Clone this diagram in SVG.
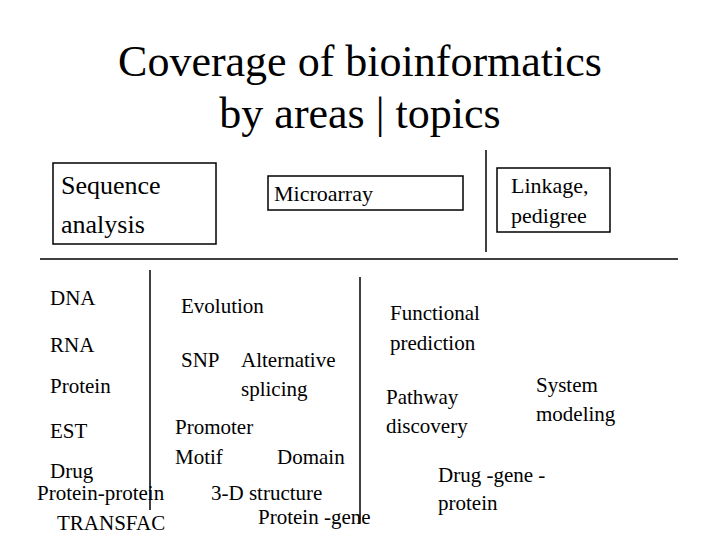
<svg xmlns="http://www.w3.org/2000/svg" width="720" height="540" viewBox="0 0 720 540" font-family="'Liberation Serif', 'DejaVu Serif Condensed', 'DejaVu Serif', serif">
<style>
text{font-family:"Liberation Serif","DejaVu Serif Condensed","DejaVu Serif",serif;fill:#000}
.t{font-size:21px}
.h{font-size:44px}
.s{font-size:26px}
.m{font-size:22px}
.box{fill:#fff;stroke:#000;stroke-width:1.5}
.ln{stroke:#000;stroke-width:1.5}
</style>
<rect width="720" height="540" fill="#fff"/>
<g id="title"><text class="h" x="360" y="76" text-anchor="middle">Coverage of bioinformatics</text>
<text class="h" x="360" y="128" text-anchor="middle">by areas | topics</text></g>
<g id="connectors">
<line class="ln" x1="486" y1="150" x2="486" y2="252"/>
<line class="ln" x1="40" y1="259" x2="678" y2="259"/>
<line class="ln" x1="150" y1="270" x2="150" y2="510"/>
<line class="ln" x1="360" y1="277" x2="360" y2="523"/>
</g>
<g id="seq"><rect class="box" x="53" y="163" width="163" height="81"/>
<text class="s" x="61" y="194">Sequence</text><text class="s" x="61" y="233">analysis</text></g>
<g id="micro"><rect class="box" x="268" y="176" width="195" height="34"/>
<text class="m" x="274" y="201">Microarray</text></g>
<g id="link"><rect class="box" x="497" y="168" width="113" height="64"/>
<text class="m" x="511" y="193">Linkage,</text><text class="m" x="511" y="223">pedigree</text></g>
<g id="labels">
<text class="t" x="50" y="305">DNA</text>
<text class="t" x="50" y="352">RNA</text>
<text class="t" x="50" y="393">Protein</text>
<text class="t" x="50" y="438">EST</text>
<text class="t" x="50" y="478">Drug</text>
<text class="t" x="37" y="500">Protein-protein</text>
<text class="t" x="57" y="530">TRANSFAC</text>
<text class="t" x="181" y="313">Evolution</text>
<text class="t" x="181" y="367">SNP</text>
<text class="t" x="241" y="367">Alternative</text>
<text class="t" x="241" y="396">splicing</text>
<text class="t" x="175" y="434">Promoter</text>
<text class="t" x="175" y="464">Motif</text>
<text class="t" x="277" y="464">Domain</text>
<text class="t" x="211" y="500">3-D structure</text>
<text class="t" x="258" y="524">Protein -gene</text>
<text class="t" x="390" y="320">Functional</text>
<text class="t" x="390" y="350">prediction</text>
<text class="t" x="386" y="404">Pathway</text>
<text class="t" x="386" y="433">discovery</text>
<text class="t" x="536" y="392">System</text>
<text class="t" x="536" y="421">modeling</text>
<text class="t" x="438" y="482">Drug -gene -</text>
<text class="t" x="438" y="510">protein</text>
</g>
</svg>
